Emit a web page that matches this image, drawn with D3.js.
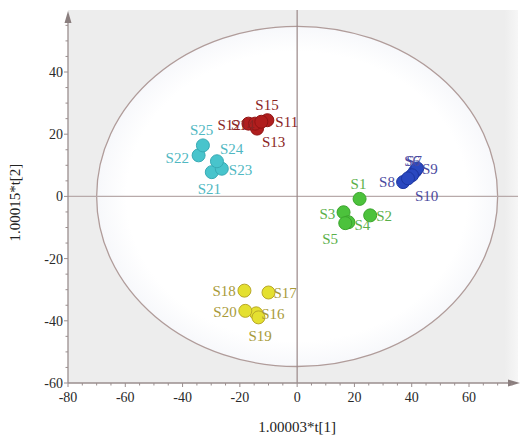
<!DOCTYPE html>
<html><head><meta charset="utf-8">
<script src="https://cdn.jsdelivr.net/npm/d3@7"></script>
<style>body{margin:0;background:#fff}svg{display:block}</style>
</head><body>
<svg id="c" width="525" height="438"></svg>
<script>
const names = ["S1","S2","S3","S4","S5","S6","S7","S8","S9","S10","S11","S12","S13","S14","S15","S16","S17","S18","S19","S20","S21","S22","S23","S24","S25"];
const t1 = [21.8,25.5,16.2,17.9,16.8,41.2,41.9,37.0,40.1,38.7,-10.4,-17.0,-14.0,-14.7,-12.5,-14.3,-10.0,-18.4,-13.5,-18.1,-29.8,-34.4,-26.3,-28.0,-32.9];
const t2 = [-0.8,-6.1,-5.1,-8.3,-8.6,8.1,9.0,4.6,6.8,5.8,24.5,23.4,21.8,23.4,24.0,-37.6,-30.9,-30.3,-38.9,-36.8,7.8,13.2,8.9,11.3,16.4];
const groups = ["A","A","A","A","A","B","B","B","B","B","C","C","C","C","C","D","D","D","D","D","E","E","E","E","E"];
const xTicks = [-80,-60,-40,-20,0,20,40,60];
const yTicks = [-60,-40,-20,0,20,40];
const xTitle = "1.00003*t[1]";
const yTitle = "1.00015*t[2]";
const ellipseRadii = [70, 54.7];

const fillC = {A:"#4cc23c",B:"#2a48c0",C:"#b01e1e",D:"#e4e030",E:"#48c4cc"};
const strokeC = {A:"#3aa52c",B:"#1d36a0",C:"#901414",D:"#b8a828",E:"#38aab4"};
const textC = {A:"#5ab04a",B:"#4a4aa0",C:"#8a2424",D:"#a89a3a",E:"#50b8c2"};
// label offsets (dx, dy) in px relative to the point
const lab = {
 S1:[-9,-10],S2:[6,6],S3:[-24,7],S4:[6,8],S5:[-23,21],
 S6:[-11,-5],S7:[-11,-2],S8:[-24,5],S9:[10,-1],S10:[7,23],
 S11:[8,7],S12:[-31,6],S13:[5,18],S14:[-24,6],S15:[-6,-12],
 S16:[5,6],S17:[5,6],S18:[-32,5],S19:[-10,24],S20:[-32,6],
 S21:[-14,22],S22:[-33,8],S23:[7,6],S24:[3,-7],S25:[-13,-10]
};

const svg = d3.select("#c");
const x = d3.scaleLinear().domain([-80,60]).range([68,469]);
const y = d3.scaleLinear().domain([-60,40]).range([383,72]);
const x0 = x(-80), x1 = 518, yTop = 10, yB = y(-60);

const defs = svg.append("defs");
const rg = defs.append("radialGradient").attr("id","rg");
rg.append("stop").attr("offset","0%").attr("stop-color","#ffffff");
rg.append("stop").attr("offset","85%").attr("stop-color","#ffffff");
rg.append("stop").attr("offset","100%").attr("stop-color","#f7f8fb");
const lg = defs.append("linearGradient").attr("id","lg");
lg.append("stop").attr("offset","0%").attr("stop-color","#ededed");
lg.append("stop").attr("offset","97%").attr("stop-color","#ededed");
lg.append("stop").attr("offset","100%").attr("stop-color","#f6f6f6");

svg.append("rect").attr("x",x0).attr("y",yTop).attr("width",x1-x0).attr("height",yB-yTop).attr("fill","url(#lg)");
svg.append("ellipse").attr("cx",x(0)).attr("cy",y(0))
  .attr("rx",x(ellipseRadii[0])-x(0)).attr("ry",y(0)-y(ellipseRadii[1]))
  .attr("fill","url(#rg)").attr("stroke","#b09c9a").attr("stroke-width",1.3);

// zero lines
svg.append("line").attr("x1",x0).attr("x2",x1).attr("y1",y(0)).attr("y2",y(0)).attr("stroke","#b8aaaa").attr("stroke-width",1.3);
svg.append("line").attr("x1",x(0)).attr("x2",x(0)).attr("y1",yTop).attr("y2",yB).attr("stroke","#9a8888").attr("stroke-width",1.2);

const axC = "#9a8e8e";
// x axis
const xa = svg.append("g");
xa.append("line").attr("x1",x0).attr("x2",x1-4).attr("y1",yB).attr("y2",yB).attr("stroke",axC).attr("stroke-width",1.3);
xa.append("path").attr("d",`M${x1+2},${yB} L${x1-10},${yB-3.5} L${x1-10},${yB+3.5} Z`).attr("fill","#8a7e7e");
d3.range(-80,76,5).forEach(v=>{
  const maj = v%20===0;
  xa.append("line").attr("x1",x(v)).attr("x2",x(v)).attr("y1",yB).attr("y2",yB+(maj?4:2.5)).attr("stroke",axC);
});
xa.selectAll("text.t").data(xTicks).join("text").attr("x",d=>x(d)).attr("y",yB+19)
  .attr("text-anchor","middle").attr("font-family","Liberation Serif").attr("font-size",14).attr("fill","#2a2a2a").text(d=>d);
// y axis
const ya = svg.append("g");
ya.append("line").attr("x1",x0).attr("x2",x0).attr("y1",yB).attr("y2",yTop+8).attr("stroke",axC).attr("stroke-width",1.3);
ya.append("path").attr("d",`M${x0},${yTop+1} L${x0-3.5},${yTop+13} L${x0+3.5},${yTop+13} Z`).attr("fill","#8a7e7e");
d3.range(-60,56,5).forEach(v=>{
  const maj = v%20===0;
  ya.append("line").attr("x1",x0-(maj?4:2.5)).attr("x2",x0).attr("y1",y(v)).attr("y2",y(v)).attr("stroke",axC);
});
ya.selectAll("text.t").data(yTicks).join("text").attr("x",x0-5).attr("y",d=>y(d)+5)
  .attr("text-anchor","end").attr("font-family","Liberation Serif").attr("font-size",14).attr("fill","#2a2a2a").text(d=>d);

svg.append("text").attr("x",x(0)).attr("y",432).attr("text-anchor","middle")
  .attr("font-family","Liberation Serif").attr("font-size",15).attr("fill","#222").text(xTitle);
svg.append("text").attr("transform",`translate(20,${y(-2)}) rotate(-90)`).attr("text-anchor","middle")
  .attr("font-family","Liberation Serif").attr("font-size",15).attr("fill","#222").text(yTitle);

const data = names.map((n,i)=>({n,x:t1[i],y:t2[i],g:groups[i]}));
svg.append("g").selectAll("circle").data(data).join("circle")
  .attr("cx",d=>x(d.x)).attr("cy",d=>y(d.y)).attr("r",6.5)
  .attr("fill",d=>fillC[d.g]).attr("stroke",d=>strokeC[d.g]).attr("stroke-width",1);
svg.append("g").selectAll("text").data(data).join("text")
  .attr("x",d=>x(d.x)+lab[d.n][0]).attr("y",d=>y(d.y)+lab[d.n][1])
  .attr("font-family","Liberation Serif").attr("font-size",15).attr("fill",d=>textC[d.g]).text(d=>d.n);
</script>
</body></html>
